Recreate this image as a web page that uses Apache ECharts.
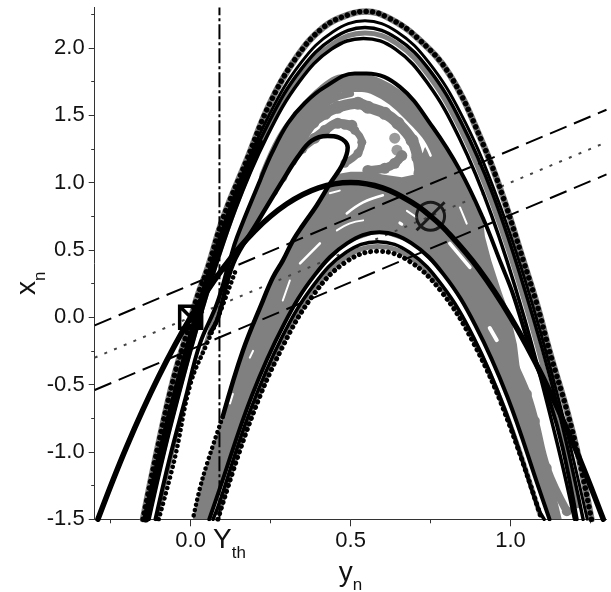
<!DOCTYPE html>
<html><head><meta charset="utf-8">
<style>html,body{margin:0;padding:0;background:#fff}#c{width:611px;height:592px}</style>
<script src="https://cdn.jsdelivr.net/npm/echarts@6/dist/echarts.min.js"></script>
</head><body><div id="c"></div>
<script>
// Values: [y_n, x_n]
const xMajorTicks=[0,0.5,1.0];
const xMinorTicks=[-0.25,0.25,0.75,1.25];
const yMajorTicks=[-1.5,-1,-0.5,0,0.5,1,1.5,2];
const yMinorTicks=[-1.25,-0.75,-0.25,0.25,0.75,1.25,1.75,2.25];

const upperDash=[[-0.3,-0.06],[1.3,1.54]];
const diagonal=[[-0.3,-0.3],[1.3,1.3]];
const lowerDash=[[-0.3,-0.54],[1.3,1.06]];
const threshold=[[0.09,-1.5],[0.09,2.3]];
const squareMark=[[0,0]];
const circleMark=[[0.75,0.75]];

const mainCurve=[[-0.29,-1.5],[-0.2,-0.96],[-0.1,-0.44],[0,0],[0.1,0.36],[0.2,0.64],[0.3,0.84],[0.4,0.96],[0.5,1.0],[0.6,0.96],[0.7,0.84],[0.75,0.75],[0.8,0.64],[0.9,0.36],[1.0,0],[1.1,-0.44],[1.2,-0.96],[1.29,-1.5]];
const outerDots=[[-0.149,-1.5],[-0.105,-0.99],[-0.055,-0.47],[-0.012,-0.12],[0.02,0.146],[0.054,0.37],[0.102,0.74],[0.175,1.165],[0.248,1.59],[0.331,1.93],[0.414,2.15],[0.498,2.25],[0.55,2.27],[0.62,2.22],[0.706,2.08],[0.81,1.80],[0.915,1.28],[0.977,0.89],[1.04,0.42],[1.082,0.10],[1.124,-0.27],[1.176,-0.69],[1.216,-1.07],[1.253,-1.5]];
const curve220=[[-0.145,-1.5],[-0.055,-0.6],[0.045,0.26],[0.145,0.96],[0.245,1.5],[0.345,1.89],[0.445,2.12],[0.545,2.2],[0.645,2.12],[0.745,1.89],[0.845,1.51],[0.945,0.97],[1.045,0.28],[1.145,-0.56],[1.24,-1.5]];
const curve215=[[-0.14,-1.5],[-0.055,-0.64],[0.045,0.2],[0.145,0.91],[0.245,1.45],[0.345,1.84],[0.445,2.07],[0.545,2.15],[0.645,2.07],[0.745,1.84],[0.845,1.45],[0.945,0.91],[1.045,0.2],[1.145,-0.64],[1.227,-1.5]];
const leftMass=[[-0.14,-1.5],[-0.055,-0.64],[0.045,0.2],[0.145,0.91],[0.215,1.3]];
const curve207=[[-0.13,-1.5],[-0.06,-0.79],[0.04,0.08],[0.14,0.8],[0.24,1.35],[0.34,1.75],[0.44,1.99],[0.54,2.07],[0.64,1.99],[0.74,1.74],[0.84,1.33],[0.94,0.76],[1.04,0.02],[1.14,-0.88],[1.2,-1.5]];
const curve181=[[-0.11,-1.5],[-0.066,-1.05],[-0.016,-0.6],[0.029,-0.196],[0.082,0.1],[0.122,0.42],[0.145,0.595],[0.217,1.016],[0.254,1.22],[0.304,1.44],[0.357,1.59],[0.42,1.71],[0.513,1.81],[0.55,1.81],[0.654,1.71],[0.757,1.41],[0.842,1.09],[0.913,0.74],[0.97,0.40],[1.007,0.176],[1.06,-0.22],[1.122,-0.62],[1.163,-0.97],[1.207,-1.5]];
const loopSolid=[[0.06,-0.12],[0.086,0],[0.133,0.40],[0.206,0.695],[0.288,1.016],[0.335,1.19],[0.378,1.31],[0.428,1.345],[0.462,1.335],[0.491,1.26],[0.476,1.14],[0.435,0.99],[0.394,0.83],[0.35,0.68],[0.32,0.57],[0.288,0.42],[0.257,0.295],[0.226,0.124],[0.163,-0.25],[0.10,-0.74]];
const loopDotsLeft=[[-0.10,-1.5],[-0.05,-1.05],[0,-0.49],[0.05,-0.2],[0.086,0],[0.144,0.37]];
const loopDotsRight=[[0.10,-0.74],[0.038,-1.19],[0.007,-1.5]];
const arc063=[[0.058,-1.5],[0.09,-1.28],[0.19,-0.59],[0.29,-0.06],[0.39,0.32],[0.49,0.55],[0.59,0.63],[0.69,0.55],[0.79,0.32],[0.89,-0.06],[0.99,-0.59],[1.09,-1.28],[1.122,-1.5]];
const arc056=[[0.07,-1.5],[0.085,-1.41],[0.185,-0.7],[0.285,-0.15],[0.385,0.24],[0.485,0.48],[0.585,0.56],[0.685,0.48],[0.785,0.24],[0.885,-0.15],[0.985,-0.7],[1.085,-1.41],[1.105,-1.5]];
const arcDots049=[[0.085,-1.5],[0.185,-0.78],[0.285,-0.23],[0.385,0.17],[0.485,0.41],[0.585,0.49],[0.685,0.414],[0.785,0.186],[0.885,-0.194],[0.985,-0.726],[1.097,-1.5]];

// Gray attractor clouds
const grayTop=[[-0.13,-1.45],[-0.055,-0.71],[0.045,0.14],[0.145,0.85],[0.245,1.40],[0.345,1.795],[0.445,2.03],[0.545,2.11],[0.645,2.03],[0.745,1.79],[0.845,1.39],[0.945,0.83],[1.045,0.11],[1.145,-0.76],[1.21,-1.4]];
const grayLowArc=[[0.09,-1.44],[0.185,-0.74],[0.285,-0.19],[0.385,0.205],[0.485,0.445],[0.585,0.525],[0.685,0.447],[0.785,0.213],[0.885,-0.17],[0.985,-0.71],[1.09,-1.45]];
const grayUnder181=[[0.242,1.04],[0.295,1.314],[0.348,1.485],[0.42,1.663],[0.482,1.738],[0.535,1.738],[0.585,1.708],[0.638,1.633],[0.692,1.514],[0.742,1.366],[0.795,1.165],[0.835,0.994]];
const grayBetween=[[0.30,1.2],[0.34,1.38],[0.39,1.53],[0.45,1.625],[0.5,1.66]];
const grayChain2=[[0.254,0.942],[0.285,1.09],[0.317,1.24],[0.348,1.336],[0.382,1.448],[0.42,1.514],[0.46,1.559],[0.523,1.589],[0.554,1.559],[0.607,1.514],[0.648,1.44],[0.692,1.314],[0.71,1.187],[0.717,1.068]];
const grayChain3=[[0.285,1.04],[0.317,1.165],[0.348,1.254],[0.388,1.329],[0.42,1.388],[0.46,1.44],[0.504,1.425]];
const grayTipChain=[[0.482,1.425],[0.513,1.388],[0.535,1.299],[0.523,1.217],[0.482,1.143]];
const grayArch=[[0.554,1.09],[0.607,1.106],[0.638,1.143],[0.66,1.2]];
const grayBlobs=[[0.638,1.329],[0.645,1.24]];
const grayLowRightE=[[0.976,-0.08],[1.007,-0.32],[1.051,-0.57],[1.076,-0.77],[1.113,-1.12],[1.176,-1.44]];
const grayCentralRegion=[[0.007,-1.5],[0.038,-1.19],[0.10,-0.74],[0.163,-0.25],[0.226,0.124],[0.257,0.295],[0.288,0.42],[0.32,0.57],[0.35,0.68],[0.394,0.83],[0.435,0.99],[0.45,1.06],[0.5,1.08],[0.56,1.08],[0.6,1.06],[0.66,1.04],[0.70,1.06],[0.715,1.14],[0.73,1.25],[0.75,1.33],[0.757,1.41],[0.842,1.09],[0.913,0.74],[0.92,0.6],[0.94,0.42],[0.97,0.2],[1.0,0],[1.02,-0.2],[1.03,-0.396],[1.05,-0.6],[1.07,-0.76],[1.10,-1.0],[1.13,-1.2],[1.16,-1.5],[1.122,-1.5],[1.09,-1.28],[0.99,-0.59],[0.89,-0.06],[0.79,0.32],[0.69,0.55],[0.59,0.63],[0.49,0.55],[0.39,0.32],[0.29,-0.06],[0.19,-0.59],[0.09,-1.28],[0.058,-1.5]];
const grayLeftRegion=[[-0.11,-1.5],[-0.016,-0.6],[0.082,0.1],[0.145,0.595],[0.217,1.016],[0.288,1.016],[0.206,0.695],[0.133,0.4],[0.086,0],[0,-0.49],[-0.10,-1.5]];
const slit1=[[0.488,0.77],[0.539,0.852],[0.601,0.905]];
const slit2=[[0.457,0.645],[0.498,0.697],[0.539,0.719]];
const slit3=[[0.81,0.548],[0.873,0.37]];
const slit4=[[0.65,1.50],[0.72,1.33],[0.75,1.2]];
const slit5=[[0.404,0.548],[0.342,0.40]];
const slit6=[[0.935,-0.08],[0.957,-0.17]];
const slit7=[[0.676,0.79],[0.707,0.74]];
const slit8=[[0.435,0.92],[0.466,0.94]];
const slit9=[[0.842,0.815],[0.863,0.695]];
const slit10=[[0.31,0.273],[0.288,0.124]];
const slit11=[[0.195,-0.25],[0.185,-0.3]];
const slit12=[[0.132,-0.57],[0.123,-0.64]];
const slit13=[[0.654,0.70],[0.66,0.69]];

const GRAY='#808080',K='#000';
const base={type:'line',smooth:0.4,silent:true,animation:false,symbol:'none',xAxisIndex:0,yAxisIndex:0};
const gray=(d,w,dots)=>Object.assign({},base,{data:d,z:dots?3:2,lineStyle:{color:GRAY,width:w,cap:'round',join:'round'},
  ...(dots?{symbol:'circle',symbolSize:w+2,showSymbol:true,showAllSymbol:true,itemStyle:{color:GRAY}}:{})});
const region=(poly)=>({type:'custom',silent:true,animation:false,z:1,clip:true,xAxisIndex:0,yAxisIndex:0,data:[0],
  renderItem:(p,api)=>({type:'polygon',shape:{points:poly.map(q=>api.coord(q))},style:{fill:GRAY}})});
const black=(d,w)=>Object.assign({},base,{data:d,z:5,lineStyle:{color:K,width:w,cap:'round',join:'round'}});
const dots=(d,w)=>Object.assign({},base,{data:d,z:5,lineStyle:{color:K,width:w,type:[0.1,w+0.8],cap:'round'}});
const white=(d,w)=>Object.assign({},base,{data:d,z:2.5,lineStyle:{color:'#fff',width:w,cap:'round'}});
const straight=(d,w,color,dash,cap)=>Object.assign({},base,{data:d,smooth:false,z:4,lineStyle:{color:color,width:w,type:dash,cap:cap||'butt'}});

const series=[
 region(grayCentralRegion),region(grayLeftRegion),
 gray(outerDots,6.5),gray(grayTop,5),gray(grayLowArc,5),
 gray(grayUnder181,18),gray(grayBetween,7),gray(grayChain2,11,true),gray(grayChain3,9,true),gray(grayTipChain,7,true),gray(grayArch,9,true),gray(grayLowRightE,8,true),
 {type:'scatter',data:grayBlobs,symbolSize:11,itemStyle:{color:GRAY},silent:true,z:3,animation:false},
 white(slit1,2.5),white(slit2,2),white(slit3,3.5),white(slit4,2.5),white(slit5,2.5),white(slit6,4),white(slit7,2),white(slit8,2),white(slit9,2),white(slit10,2),white(slit11,2),white(slit12,2),white(slit13,3),
 straight(threshold,2,K,[15,3,3,3]),
 straight(upperDash,2,K,[18,8]),straight(lowerDash,2,K,[18,8]),straight(diagonal,2,'#444',[3,7.5]),
 dots(outerDots,5.5),black(curve220,3),black(curve215,3.5),black(leftMass,7),black(curve207,3.5),black(curve181,4),
 black(loopSolid,4.5),dots(loopDotsLeft,4.5),dots(loopDotsRight,4.5),
 black(arc063,4),black(arc056,3.5),dots(arcDots049,5),
 black(mainCurve,5.5),
 {type:'scatter',data:squareMark,symbol:'path://M0 0H20V20H0ZM0 0L20 20',symbolSize:22,silent:true,z:9,zlevel:1,animation:false,clip:false,
  itemStyle:{color:'rgba(0,0,0,0)',borderColor:K,borderWidth:3.5,opacity:1}},
 {type:'scatter',data:circleMark,symbol:'path://M22 12A10 10 0 1 1 2 12A10 10 0 1 1 22 12ZM2 22L22 2',symbolSize:28,silent:true,z:9,animation:false,clip:false,
  itemStyle:{color:'rgba(0,0,0,0)',borderColor:K,borderWidth:3}}
];

const F='"Liberation Sans",Arial,sans-serif';
const lineCol='#333';
const fmt=v=>v.toFixed(1);
const tickAxis=(min,max,pos,vals,len)=>({type:'value',min:min,max:max,position:pos,splitLine:{show:false},axisLine:{show:false,onZero:false},
   axisTick:{show:true,customValues:vals,length:len,lineStyle:{color:lineCol}},axisLabel:{show:false}});
const chart=echarts.init(document.getElementById('c'));
chart.setOption({
 animation:false,backgroundColor:'#fff',
 grid:{left:94.7,right:4.5,top:7.4,bottom:72.7,containLabel:false,outerBoundsMode:'none'},
 xAxis:[
  {type:'value',min:-0.3,max:1.3,position:'bottom',splitLine:{show:false},
   axisLine:{show:true,onZero:false,lineStyle:{color:lineCol,width:1}},
   axisTick:{show:false},
   axisLabel:{customValues:xMajorTicks,formatter:fmt,fontFamily:F,fontSize:22,color:'#111',margin:11,hideOverlap:false},
   name:'y{s|n}',nameLocation:'middle',nameGap:32,nameMoveOverlap:false,nameTextStyle:{fontFamily:F,fontSize:28,color:'#111',rich:{s:{fontFamily:F,fontSize:17,color:'#111',verticalAlign:'bottom',padding:[26,0,0,0]}}}},
  tickAxis(-0.3,1.3,'bottom',xMinorTicks,4),
  tickAxis(-0.3,1.3,'bottom',xMajorTicks,7)
 ],
 yAxis:[
  {type:'value',min:-1.5,max:2.3,position:'left',splitLine:{show:false},
   axisLine:{show:true,onZero:false,lineStyle:{color:lineCol,width:1}},
   axisTick:{show:false},
   axisLabel:{customValues:yMajorTicks,formatter:fmt,fontFamily:F,fontSize:22,color:'#111',margin:10},
   name:'x{s|n}',nameLocation:'middle',nameGap:46,nameMoveOverlap:false,nameTextStyle:{fontFamily:F,fontSize:28,color:'#111',padding:[0,40,0,0],rich:{s:{fontFamily:F,fontSize:17,color:'#111',verticalAlign:'bottom',padding:[26,0,0,0]}}}},
  tickAxis(-1.5,2.3,'left',yMinorTicks,3.5),
  tickAxis(-1.5,2.3,'left',yMajorTicks,6)
 ],
 series:series,
 graphic:[{type:'text',left:213,top:526,silent:true,style:{text:'Y{s|th}',fontFamily:F,fontSize:28,fill:'#111',rich:{s:{fontFamily:F,fontSize:17,fill:'#111',verticalAlign:'bottom',padding:[26,0,0,0]}}}}]
});
</script></body></html>
